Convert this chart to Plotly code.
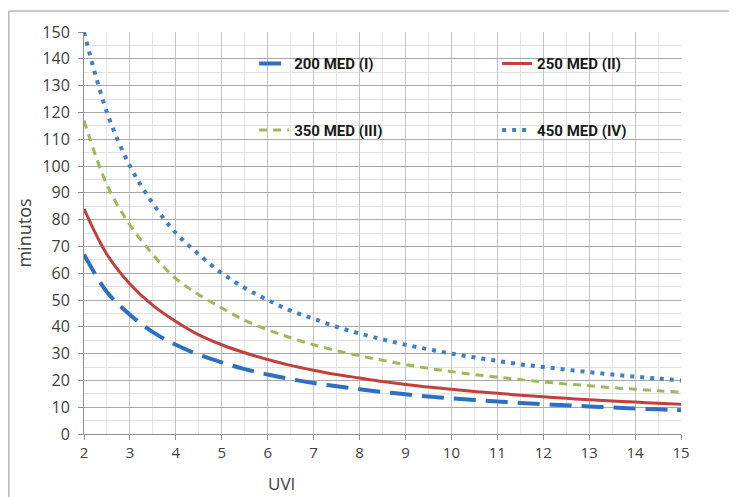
import plotly.graph_objects as go

# UVI values (x) and exposure time in minutes
uvi = [2, 2.5, 3, 3.5, 4, 4.5, 5, 5.5, 6, 6.5, 7, 7.5, 8, 8.5, 9,
       9.5, 10, 10.5, 11, 11.5, 12, 12.5, 13, 13.5, 14, 14.5, 15]

med_200 = [67, 53, 44.5, 38, 33.3, 29.6, 26.7, 24.2, 22.2, 20.5, 19, 17.8, 16.7, 15.7, 14.8,
           14, 13.3, 12.7, 12.1, 11.6, 11.1, 10.7, 10.3, 9.9, 9.5, 9.2, 8.9]
med_250 = [84, 67, 56, 48, 42, 37, 33.3, 30.3, 27.8, 25.6, 23.8, 22.2, 20.9, 19.6, 18.5,
           17.5, 16.7, 15.9, 15.2, 14.5, 13.9, 13.3, 12.8, 12.3, 11.9, 11.5, 11.1]
med_350 = [117, 93, 78, 67, 58, 52, 47, 42.4, 38.9, 35.9, 33.3, 31.1, 29.2, 27.5, 25.9,
           24.5, 23.3, 22.2, 21.2, 20.3, 19.4, 18.7, 18, 17.3, 16.7, 16.1, 15.6]
med_450 = [150, 120, 100, 86, 75, 67, 60, 54.5, 50, 46, 43, 40, 37.5, 35.3, 33.3,
           31.6, 30, 28.6, 27.3, 26, 25, 24, 23.1, 22.2, 21.4, 20.7, 20]

names = ["200 MED (I)", "250 MED (II)", "350 MED (III)", "450 MED (IV)"]

fig = go.Figure()

fig.add_trace(go.Scatter(x=uvi, y=med_200, mode="lines", name=names[0],
                         line=dict(color="#2f6fc2", width=4, dash="22px,10px", shape="spline"),
                         legend="legend", legendgroup="a"))
fig.add_trace(go.Scatter(x=uvi, y=med_350, mode="lines", name=names[2],
                         line=dict(color="#9bbb59", width=3, dash="8px,6px", shape="spline"),
                         legend="legend", legendgroup="b"))
fig.add_trace(go.Scatter(x=uvi, y=med_250, mode="lines", name=names[1],
                         line=dict(color="#c0403c", width=3, shape="spline"),
                         legend="legend2", legendgroup="c"))
fig.add_trace(go.Scatter(x=uvi, y=med_450, mode="lines", name=names[3],
                         line=dict(color="#3f7fca", width=4, dash="4px,6px", shape="spline"),
                         legend="legend2", legendgroup="d"))

legend_font = dict(family="Roboto, Arial, sans-serif", size=15, color="#1a1a1a", weight="bold")

# page body adds an 8px offset, so the figure is 8px smaller than the window
fig.update_layout(
    width=729, height=489,
    margin=dict(l=76, r=56, t=24, b=63),
    paper_bgcolor="white", plot_bgcolor="white",
    font=dict(family="Open Sans, Arial, sans-serif", size=14, color="#404040"),
    legend=dict(x=0.285, y=0.962, xanchor="left", yanchor="top", bgcolor="rgba(0,0,0,0)",
                font=legend_font, traceorder="grouped", tracegroupgap=44),
    legend2=dict(x=0.692, y=0.962, xanchor="left", yanchor="top", bgcolor="rgba(0,0,0,0)",
                 font=legend_font, traceorder="grouped", tracegroupgap=44),
    showlegend=True,
)

fig.update_xaxes(
    range=[2, 15], tickmode="linear", tick0=2, dtick=1, automargin=False,
    showgrid=True, gridcolor="#c4c4c4", gridwidth=1,
    minor=dict(dtick=0.5, showgrid=True, gridcolor="#e4e4e4"),
    showline=True, linecolor="#909090", zeroline=False,
    ticks="outside", ticklen=5, tickcolor="#909090",
    tickfont=dict(size=15, color="#404040"),
)
fig.update_yaxes(
    range=[0, 150], tickmode="linear", tick0=0, dtick=10, automargin=False,
    showgrid=True, gridcolor="#a8a8a8", gridwidth=1,
    minor=dict(dtick=5, showgrid=True, gridcolor="#e0e0e0"),
    showline=True, linecolor="#909090", zeroline=False,
    ticks="outside", ticklen=5, tickcolor="#909090", ticklabelstandoff=5,
    tickfont=dict(size=16, color="#404040"),
    title=dict(text="minutos", font=dict(size=18, color="#404040"), standoff=6),
)

# x-axis title sits left of centre in the original
fig.add_annotation(text="UVI", xref="paper", yref="paper", x=0.33, y=-0.122,
                   xanchor="center", yanchor="middle", showarrow=False,
                   font=dict(size=17, color="#404040"))

# outer chart frame: only top and left edges are visible in the original
frame = dict(color="#b8b8b8", width=1.5)
fig.add_shape(type="line", xref="paper", yref="paper",
              x0=-0.126, x1=1.2, y0=1.052, y1=1.052, line=frame, layer="below")
fig.add_shape(type="line", xref="paper", yref="paper",
              x0=-0.126, x1=-0.126, y0=-0.3, y1=1.052, line=frame, layer="below")

fig.write_html("out.html")
